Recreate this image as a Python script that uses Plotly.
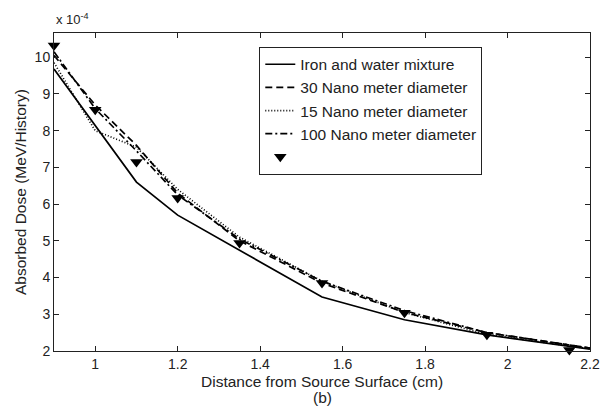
import plotly.graph_objects as go

x_lines = [0.9, 1.0, 1.1, 1.2, 1.35, 1.55, 1.75, 1.95, 2.2]
iron_water = [9.68, 8.14, 6.6, 5.7, 4.74, 3.47, 2.85, 2.44, 2.05]
nm30 = [10.05, 8.7, 7.6, 6.3, 5.0, 3.85, 3.05, 2.5, 2.08]
nm15 = [9.85, 8.0, 7.55, 6.4, 5.1, 3.9, 3.05, 2.45, 2.06]
nm100 = [10.15, 8.6, 7.45, 6.25, 5.05, 3.9, 3.1, 2.5, 2.08]

x_markers = [0.9, 1.0, 1.1, 1.2, 1.35, 1.55, 1.75, 1.95, 2.15]
marker_vals = [10.32, 8.57, 7.15, 6.17, 4.94, 3.85, 3.04, 2.44, 2.03]

x_ticks = [1, 1.2, 1.4, 1.6, 1.8, 2, 2.2]
x_ticklabels = ["1", "1.2", "1.4", "1.6", "1.8", "2", "2.2"]
y_ticks = [2, 3, 4, 5, 6, 7, 8, 9, 10]

FONT = "Liberation Sans, Arial, sans-serif"
TXT = "#222"

fig = go.Figure()
series = [
    ("Iron and water mixture", iron_water, "solid"),
    ("30 Nano meter diameter", nm30, "7px,4px"),
    ("15 Nano meter diameter", nm15, "1px,2px"),
    ("100 Nano meter diameter", nm100, "7px,3px,2px,3px"),
]
for i, (name, vals, dash) in enumerate(series):
    fig.add_trace(go.Scatter(
        x=x_lines, y=vals, mode="lines", name=name, legendgroup=str(i),
        line=dict(color="black", width=1.7, dash=dash),
    ))
fig.add_trace(go.Scatter(
    x=x_markers, y=marker_vals, mode="markers", name=" ", legendgroup="m",
    marker=dict(symbol="triangle-down", size=11, color="black"),
    cliponaxis=False,
))

axis_common = dict(
    showgrid=False, zeroline=False, showline=True, linecolor=TXT,
    linewidth=1, mirror="ticks", ticks="inside", ticklen=5, tickcolor=TXT,
    tickfont=dict(family=FONT, size=14, color=TXT), automargin=False,
)

fig.update_layout(
    width=601, height=408,
    margin=dict(l=54, r=11, t=33, b=57),
    paper_bgcolor="white", plot_bgcolor="white",
    font=dict(family=FONT, size=14, color=TXT),
    xaxis=dict(range=[0.9, 2.2], tickvals=x_ticks, ticktext=x_ticklabels,
               **axis_common),
    yaxis=dict(range=[2, 10.66], tickvals=y_ticks, **axis_common),
    legend=dict(x=0.383, y=0.957, xanchor="left", yanchor="top",
                bgcolor="white", bordercolor=TXT, borderwidth=1,
                font=dict(family=FONT, size=15.5, color=TXT),
                tracegroupgap=0, traceorder="grouped"),
    showlegend=True,
)
fig.add_annotation(
    text="x 10<sup>-4</sup>", xref="paper", yref="paper", x=0.0, y=1.0,
    xanchor="left", yanchor="bottom", yshift=4, showarrow=False,
    font=dict(family=FONT, size=13, color=TXT),
)
fig.add_annotation(
    text="Distance from Source Surface (cm)", xref="paper", yref="paper",
    x=0.5, y=0, yshift=-30, xanchor="center", yanchor="middle", showarrow=False,
    font=dict(family=FONT, size=15.5, color=TXT),
)
fig.add_annotation(
    text="(b)", xref="paper", yref="paper",
    x=0.5, y=0, yshift=-46, xanchor="center", yanchor="middle", showarrow=False,
    font=dict(family=FONT, size=15.5, color=TXT),
)
fig.add_annotation(
    text="Absorbed Dose (MeV/History)", xref="paper", yref="paper",
    x=0, xshift=-34, y=0.5, xanchor="center", yanchor="middle", textangle=-90,
    showarrow=False, font=dict(family=FONT, size=15.5, color=TXT),
)

fig.write_html("out.html")
